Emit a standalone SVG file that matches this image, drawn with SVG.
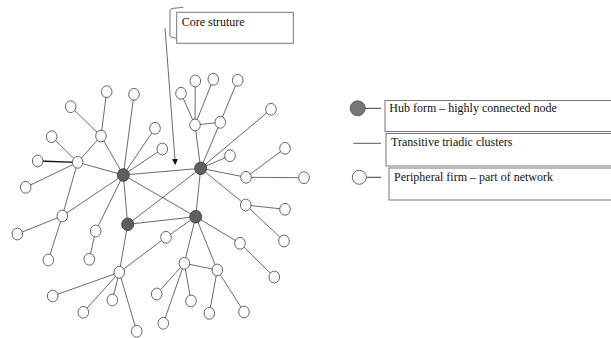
<svg xmlns="http://www.w3.org/2000/svg" width="611" height="338" viewBox="0 0 611 338">
<style>
.e{stroke:#444;stroke-width:0.8;fill:none}
.p{fill:#fff;stroke:#555;stroke-width:0.9}
.h{fill:#5f5f5f;stroke:#444;stroke-width:0.9}
.box{fill:#fff;stroke:#777;stroke-width:1}
.t{font-family:"Liberation Serif","Times New Roman",serif;font-size:12px;fill:#111}
</style>
<defs>
<marker id="ah" markerWidth="6" markerHeight="6" refX="5" refY="3" orient="auto" markerUnits="userSpaceOnUse">
<path d="M0,0 L6,3 L0,6 z" fill="#111"/>
</marker>
</defs>
<g id="connectors">
<line class="e" x1="106.7" y1="91.7" x2="101" y2="136"/>
<line class="e" x1="70.7" y1="106.7" x2="101" y2="136"/>
<line class="e" x1="101" y1="136" x2="77.7" y2="162.3"/>
<line class="e" x1="101" y1="136" x2="123.3" y2="175"/>
<line class="e" x1="134" y1="94.3" x2="123.3" y2="175"/>
<line class="e" x1="155" y1="128.3" x2="123.3" y2="175"/>
<line class="e" x1="162.3" y1="149" x2="123.3" y2="175"/>
<line class="e" x1="51.7" y1="136.7" x2="77.7" y2="162.3"/>
<line x1="37.7" y1="161" x2="77.7" y2="162.3" stroke="#111" stroke-width="1.3"/>
<line class="e" x1="77.7" y1="162.3" x2="123.3" y2="175"/>
<line class="e" x1="77.7" y1="162.3" x2="62.3" y2="216"/>
<line class="e" x1="25.7" y1="187.3" x2="77.7" y2="162.3"/>
<line class="e" x1="62.3" y1="216" x2="123.3" y2="175"/>
<line class="e" x1="62.3" y1="216" x2="17.3" y2="234"/>
<line class="e" x1="62.3" y1="216" x2="48.3" y2="260"/>
<line class="e" x1="123.3" y1="175" x2="95.7" y2="231"/>
<line class="e" x1="95.7" y1="231" x2="89.3" y2="259.3"/>
<line class="e" x1="123.3" y1="175" x2="200.7" y2="168.3"/>
<line class="e" x1="123.3" y1="175" x2="127.7" y2="224.3"/>
<line class="e" x1="123.3" y1="175" x2="195.7" y2="216.7"/>
<line class="e" x1="127.7" y1="224.3" x2="200.7" y2="168.3"/>
<line class="e" x1="127.7" y1="224.3" x2="195.7" y2="216.7"/>
<line class="e" x1="200.7" y1="168.3" x2="195.7" y2="216.7"/>
<line class="e" x1="127.7" y1="224.3" x2="119.3" y2="272.3"/>
<line class="e" x1="119.3" y1="272.3" x2="166" y2="237.3"/>
<line class="e" x1="166" y1="237.3" x2="195.7" y2="216.7"/>
<line class="e" x1="119.3" y1="272.3" x2="52.7" y2="296"/>
<line class="e" x1="119.3" y1="272.3" x2="112.3" y2="300"/>
<line class="e" x1="119.3" y1="272.3" x2="83.3" y2="312.3"/>
<line class="e" x1="119.3" y1="272.3" x2="136.7" y2="331.3"/>
<line class="e" x1="195.7" y1="216.7" x2="184.3" y2="263.3"/>
<line class="e" x1="195.7" y1="216.7" x2="217.3" y2="270"/>
<line class="e" x1="195.7" y1="216.7" x2="240" y2="243.3"/>
<line class="e" x1="240" y1="243.3" x2="274.3" y2="277"/>
<line class="e" x1="184.3" y1="263.3" x2="217.3" y2="270"/>
<line class="e" x1="184.3" y1="263.3" x2="156.7" y2="294"/>
<line class="e" x1="184.3" y1="263.3" x2="191" y2="301"/>
<line class="e" x1="184.3" y1="263.3" x2="163.3" y2="323.3"/>
<line class="e" x1="217.3" y1="270" x2="209.3" y2="313.3"/>
<line class="e" x1="217.3" y1="270" x2="244" y2="312"/>
<line class="e" x1="200.7" y1="168.3" x2="195" y2="125"/>
<line class="e" x1="200.7" y1="168.3" x2="220.3" y2="122.3"/>
<line class="e" x1="200.7" y1="168.3" x2="271" y2="109.3"/>
<line class="e" x1="200.7" y1="168.3" x2="230" y2="155.7"/>
<line class="e" x1="195" y1="125" x2="181" y2="93.3"/>
<line class="e" x1="195" y1="125" x2="195.3" y2="81"/>
<line class="e" x1="195" y1="125" x2="213.3" y2="79.3"/>
<line class="e" x1="195" y1="125" x2="220.3" y2="122.3"/>
<line class="e" x1="220.3" y1="122.3" x2="237.7" y2="80.3"/>
<line class="e" x1="200.7" y1="168.3" x2="246" y2="177.3"/>
<line class="e" x1="246" y1="177.3" x2="304" y2="177.7"/>
<line class="e" x1="246" y1="177.3" x2="285" y2="148.3"/>
<line class="e" x1="200.7" y1="168.3" x2="245.7" y2="205"/>
<line class="e" x1="245.7" y1="205" x2="285" y2="209.3"/>
<line class="e" x1="245.7" y1="205" x2="284" y2="241"/>
<line x1="165" y1="28" x2="175.3" y2="164" stroke="#444" stroke-width="0.8" marker-end="url(#ah)"/>
</g>
<g id="hubs">
<ellipse id="hub1" class="h" cx="123.3" cy="175" rx="6" ry="6.3"/>
<ellipse id="hub2" class="h" cx="200.7" cy="168.3" rx="6" ry="6.3"/>
<ellipse id="hub3" class="h" cx="127.7" cy="224.3" rx="6" ry="6.3"/>
<ellipse id="hub4" class="h" cx="195.7" cy="216.7" rx="6" ry="6.3"/>
</g>
<g id="peripherals">
<ellipse id="n1" class="p" cx="106.7" cy="91.7" rx="5.3" ry="5.9"/>
<ellipse id="n2" class="p" cx="134" cy="94.3" rx="5.3" ry="5.9"/>
<ellipse id="n3" class="p" cx="70.7" cy="106.7" rx="5.3" ry="5.9"/>
<ellipse id="n4" class="p" cx="101" cy="136" rx="5.3" ry="5.9"/>
<ellipse id="n5" class="p" cx="155" cy="128.3" rx="5.3" ry="5.9"/>
<ellipse id="n6" class="p" cx="162.3" cy="149" rx="5.3" ry="5.9"/>
<ellipse id="n7" class="p" cx="51.7" cy="136.7" rx="5.3" ry="5.9"/>
<ellipse id="n8" class="p" cx="37.7" cy="161" rx="5.3" ry="5.9"/>
<ellipse id="n9" class="p" cx="77.7" cy="162.3" rx="5.3" ry="5.9"/>
<ellipse id="n10" class="p" cx="181" cy="93.3" rx="5.3" ry="5.9"/>
<ellipse id="n11" class="p" cx="195.3" cy="81" rx="5.3" ry="5.9"/>
<ellipse id="n12" class="p" cx="213.3" cy="79.3" rx="5.3" ry="5.9"/>
<ellipse id="n13" class="p" cx="237.7" cy="80.3" rx="5.3" ry="5.9"/>
<ellipse id="n14" class="p" cx="195" cy="125" rx="5.3" ry="5.9"/>
<ellipse id="n15" class="p" cx="220.3" cy="122.3" rx="5.3" ry="5.9"/>
<ellipse id="n16" class="p" cx="271" cy="109.3" rx="5.3" ry="5.9"/>
<ellipse id="n17" class="p" cx="230" cy="155.7" rx="5.3" ry="5.9"/>
<ellipse id="n18" class="p" cx="285" cy="148.3" rx="5.3" ry="5.9"/>
<ellipse id="n19" class="p" cx="25.7" cy="187.3" rx="5.3" ry="5.9"/>
<ellipse id="n20" class="p" cx="62.3" cy="216" rx="5.3" ry="5.9"/>
<ellipse id="n21" class="p" cx="17.3" cy="234" rx="5.3" ry="5.9"/>
<ellipse id="n22" class="p" cx="95.7" cy="231" rx="5.3" ry="5.9"/>
<ellipse id="n23" class="p" cx="48.3" cy="260" rx="5.3" ry="5.9"/>
<ellipse id="n24" class="p" cx="89.3" cy="259.3" rx="5.3" ry="5.9"/>
<ellipse id="n25" class="p" cx="166" cy="237.3" rx="5.3" ry="5.9"/>
<ellipse id="n26" class="p" cx="119.3" cy="272.3" rx="5.3" ry="5.9"/>
<ellipse id="n27" class="p" cx="246" cy="177.3" rx="5.3" ry="5.9"/>
<ellipse id="n28" class="p" cx="304" cy="177.7" rx="5.3" ry="5.9"/>
<ellipse id="n29" class="p" cx="245.7" cy="205" rx="5.3" ry="5.9"/>
<ellipse id="n30" class="p" cx="285" cy="209.3" rx="5.3" ry="5.9"/>
<ellipse id="n31" class="p" cx="284" cy="241" rx="5.3" ry="5.9"/>
<ellipse id="n32" class="p" cx="240" cy="243.3" rx="5.3" ry="5.9"/>
<ellipse id="n33" class="p" cx="274.3" cy="277" rx="5.3" ry="5.9"/>
<ellipse id="n34" class="p" cx="184.3" cy="263.3" rx="5.3" ry="5.9"/>
<ellipse id="n35" class="p" cx="217.3" cy="270" rx="5.3" ry="5.9"/>
<ellipse id="n36" class="p" cx="156.7" cy="294" rx="5.3" ry="5.9"/>
<ellipse id="n37" class="p" cx="191" cy="301" rx="5.3" ry="5.9"/>
<ellipse id="n38" class="p" cx="209.3" cy="313.3" rx="5.3" ry="5.9"/>
<ellipse id="n39" class="p" cx="244" cy="312" rx="5.3" ry="5.9"/>
<ellipse id="n40" class="p" cx="163.3" cy="323.3" rx="5.3" ry="5.9"/>
<ellipse id="n41" class="p" cx="52.7" cy="296" rx="5.3" ry="5.9"/>
<ellipse id="n42" class="p" cx="112.3" cy="300" rx="5.3" ry="5.9"/>
<ellipse id="n43" class="p" cx="83.3" cy="312.3" rx="5.3" ry="5.9"/>
<ellipse id="n44" class="p" cx="136.7" cy="331.3" rx="5.3" ry="5.9"/>
</g>
<g id="core-label">
<path d="M183.3,7.3 L172,8.5 Q170,9 170,11 L170,35 Q170,37 172,37.5 L183.3,39" fill="none" stroke="#555" stroke-width="0.8"/>
<rect class="box" x="176.7" y="12.3" width="116.6" height="31"/>
<text class="t" x="181.7" y="26">Core struture</text>
</g>
<g id="legend-hub">
<circle cx="357.7" cy="108.3" r="7.5" fill="#777" stroke="#555" stroke-width="0.9"/>
<line x1="365" y1="108.3" x2="381" y2="108.3" stroke="#222" stroke-width="0.9"/>
<rect class="box" x="385" y="100.5" width="240" height="31"/>
<text class="t" x="389.3" y="112.3">Hub form – highly connected node</text>
</g>
<g id="legend-tie">
<line x1="353.3" y1="143.3" x2="381" y2="143.3" stroke="#444" stroke-width="0.9"/>
<rect class="box" x="386" y="133.5" width="240" height="32.5"/>
<text class="t" x="391" y="146">Transitive triadic clusters</text>
</g>
<g id="legend-peripheral">
<circle cx="359.3" cy="177.3" r="7" fill="#fff" stroke="#555" stroke-width="0.9"/>
<line x1="366.7" y1="177.3" x2="381" y2="177.3" stroke="#222" stroke-width="0.9"/>
<rect class="box" x="389" y="168" width="240" height="32"/>
<text class="t" x="394" y="180.7">Peripheral firm – part of network</text>
</g>
</svg>
